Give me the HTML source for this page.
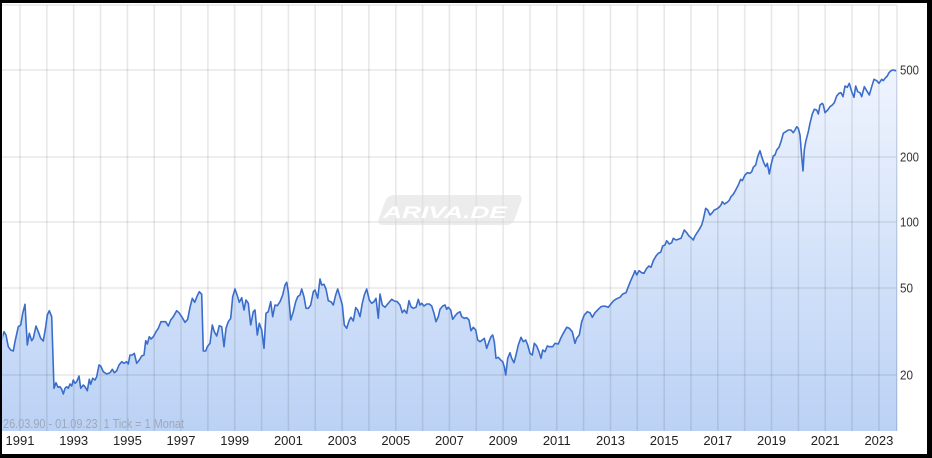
<!DOCTYPE html>
<html>
<head>
<meta charset="utf-8">
<style>
html,body{margin:0;padding:0;background:#fff;}
svg{display:block;}
text{font-family:"Liberation Sans",Arial,sans-serif;}
</style>
</head>
<body>
<svg width="932" height="458" viewBox="0 0 932 458" xmlns="http://www.w3.org/2000/svg" xmlns:xlink="http://www.w3.org/1999/xlink">
<defs>
<linearGradient id="fg" gradientUnits="userSpaceOnUse" x1="0" y1="70" x2="0" y2="431">
<stop offset="0" stop-color="#eff4fe"/>
<stop offset="1" stop-color="#bbd2f5"/>
</linearGradient>
<clipPath id="cl"><rect x="2.6" y="0" width="893.6" height="430"/></clipPath>
<polygon id="area" points="1.7,431 1.7,340 4,331.7 6,335 8.3,346.7 10.7,350 13.3,351 15,341.7 18.3,326.7 20.7,325 22.7,313.3 25,304.3 27.3,345 29.3,333.3 31.7,340.7 33.3,338.3 36,326 38.3,331.7 40.7,338.3 43.3,341 45.7,326.7 47.3,315 49.3,310.7 51.7,316.7 54,388.3 56,382.7 58,387.3 60,386.7 61.7,389.3 63.3,394 65,388.3 66.7,386.7 68.3,388.3 70,384 71.7,386 73.3,380 75,383.3 76.7,381.7 79,376 80.7,388.3 83.3,385 85,386.7 87.3,390.7 89.3,379.3 90.7,384.3 92.7,378.3 95,380 96.7,376.7 99,365 100.7,366 103.3,371.7 106.7,374 110,372.7 112.3,369.3 114.3,372.7 116.7,370.7 119,365 121.7,361.7 124,363.3 126.7,361.7 128.3,364 130,355 132.3,355 134.3,353.3 136.7,363.3 139.3,360 141.7,356 144,355 145.7,340.7 147.3,344 149.3,336.7 151,339 153.3,336.7 156,331.7 158.3,328.3 161,321.7 163.3,321.7 165.7,321.7 168.3,326 170.7,320 173.3,316.7 176.7,310.7 179,312.7 181.7,316.7 185,322.3 187.7,319.3 190,307.3 192.3,298.3 194.7,302.3 197.3,295.7 199.3,291.7 201.7,294.3 203.3,351 205.7,351 207.3,346.7 210,343.3 212.3,325 214.3,331.7 216.7,336 219.3,325.7 221.7,326.7 224,346.7 226,328.3 228.3,321.7 230.7,318.3 232.7,296.7 235,289 237.3,295.7 239.3,302.3 241.7,297.7 244,310 246,300 248.3,303.3 250.7,325 253.3,311.7 255,310 257.3,335 259.3,323.3 261.7,330 264,348.3 266,313.3 268.3,311.7 270.7,301.7 272.7,316.7 275,305 277.3,305.7 280,301.7 282.7,295 285,285 286.7,282.3 288.3,291.7 290.7,320 293.3,311.7 295.7,301.7 297.7,296.7 300,295 301.7,289 304,296.7 306,308.3 308.3,308.3 310.7,305 313.3,291.7 315,290 317.7,298.3 320,279 321.7,285 324,284.3 326,289 328.3,300.7 331,301.7 333.3,305 335.7,295 337.7,289 340,296.7 342.3,305 344.3,325 346.7,328.3 349.3,320 351,317.3 353.3,321 355.7,307.7 357.7,310 360,316.7 362.3,303.3 364.3,295 366.7,289 369.3,300 371.7,303.3 374,301.7 376,298.3 378.3,318.3 380,294 382.3,305 385,307.3 388.3,303.3 391.7,299.3 394.3,301 397.3,301.7 400,305 402.3,312.7 404.3,310 406.7,313.3 409,300.7 411,306.7 413.3,308.3 416,307.3 418.3,299.3 420,305 421.7,303.3 424,306 426.7,304 429.3,304 431.7,306 434,313.3 436,321.7 438.3,316.7 440,309.3 442.7,306 445,305 446.7,309.3 448.3,307.3 450.7,310 452.7,319.3 455,316 457.3,313.3 460,311.7 461.7,316.7 464.3,318.3 466.7,317.7 469,320 471,330.7 473.3,327.3 475.7,330 477.7,340 480,341.7 482.3,340 484.3,338.3 486.7,348.3 489,341.7 491,336.7 492.7,335 494.3,341.7 496,358.3 498.3,357.3 500.7,360 502.7,361.7 504.3,366.7 505.7,375 507.7,358.3 510,352.7 511.7,358.3 514,362.7 516,355 518.3,345 521,337.3 523.3,341.7 525.7,340 527.7,345 530,353.3 532.3,355 534.3,343.3 536.7,346 539,351.7 541,358.3 542.7,350 545,351.7 547.3,346 549.3,346.7 552.7,346.7 555,343.3 558.3,344 560.7,338.3 563.3,333.3 566.7,327.3 569.3,328.3 572.3,331.7 575,343.3 576.7,338.3 579.3,335 581.7,321.7 584.3,315 587.3,311.7 590,312.7 592.3,317.3 595,312.7 598.3,309.3 601,306.7 604,306 606.7,306.7 608.3,307.3 610.7,304.3 613.3,301 616.7,298.7 620,297.3 622.7,294 626,292.7 628.3,286.7 630.7,280.7 633.3,275 635,270.7 636.7,275 639,270.7 641.7,272.7 644,273.3 646.7,268.3 649,266 651,267.3 653.3,260.7 656,256 658.3,253.3 660.7,252.3 662.7,246 665,245 666.7,240.7 669.3,244 671.7,242.7 673.3,238.3 676,240 678.3,239.3 681,238.3 682.7,234 684.3,230 686.7,232.7 689,236 691.7,238.3 693.3,240 695,236 696.7,233.3 699.3,229.3 701.7,225 703.3,219.3 705.7,208.3 707.7,210 710,215 712.3,212.7 714.3,210 716.7,209 719,207.3 721,205 722.3,201.7 724.3,204 726.7,202.7 729,200.7 731,196.7 733.3,194.3 735.7,190 738.3,185 740.7,179.3 742.3,180.7 745,175 747.3,172.7 750,173.3 751.7,171.7 753.3,167.3 755.7,165 757.7,156.7 760,150.7 761.7,156.7 764,163.3 765.7,166.7 767.3,163.3 769.3,174 771,165 773.3,156 775,155 776.7,150 779,147.3 781,141.7 783.3,133.3 785.7,131.7 788.3,130 791,130 793.3,132.7 795,130 796.7,126.7 798.3,128.3 800,135 801.7,156.7 803,171 804.3,150 805.7,141.7 808.3,131.7 810,123.3 812.3,114 814.3,109.3 816.7,110 818.3,114 820,105 822.3,103.3 823.3,105 825,112.7 827.7,110 830,106.7 832.3,105 834.3,102.7 836.7,96 839,93.3 841,92.7 843,96.7 845,86 847.3,87.3 849.3,83.3 851.7,91.7 854,97.3 855.7,86 857.7,91.7 860,92.7 861.7,96.7 864.3,86.7 866.7,90.7 869.3,95 871.7,86.7 874,79.3 876.7,80.7 879,83.3 881.7,79.3 883.3,80.7 885,78.3 887.3,76 889,72.7 891,70.7 893.3,70 895.7,70.7 897,70 897,431"/>
</defs>

<rect x="0" y="0" width="932" height="458" fill="#fff"/>

<use href="#area" xlink:href="#area" fill="url(#fg)" stroke="none"/>

<g stroke="#000" stroke-opacity="0.09" stroke-width="1.6" fill="none">
<path d="M2 5H897M2 70H897M2 157H897M2 222H897M2 288H897M2 375H897M897 5V431"/>
<path d="M20 5V431M46.8 5V431M73.7 5V431M100.5 5V431M127.4 5V431M154.2 5V431M181 5V431M207.9 5V431M234.7 5V431M261.6 5V431M288.4 5V431M315.2 5V431M342.1 5V431M368.9 5V431M395.8 5V431M422.6 5V431M449.4 5V431M476.3 5V431M503.1 5V431M530 5V431M556.8 5V431M583.6 5V431M610.5 5V431M637.3 5V431M664.2 5V431M691 5V431M717.8 5V431M744.7 5V431M771.5 5V431M798.4 5V431M825.2 5V431M852 5V431M878.9 5V431"/>
</g>

<g transform="translate(450,210) skewX(-20)">
<rect x="-68" y="-15" width="136" height="30" rx="6" fill="#dcdcdc" fill-opacity="0.55"/>
</g>
<text x="383" y="218" font-size="17" font-weight="bold" font-style="italic" fill="#ffffff" textLength="124" lengthAdjust="spacingAndGlyphs">ARIVA.DE</text>

<use href="#area" xlink:href="#area" fill="none" stroke="#3a6dcb" stroke-width="1.6" stroke-linejoin="round" clip-path="url(#cl)"/>

<text x="3" y="428" font-size="12.5" fill="#9ea8b8" textLength="181" lengthAdjust="spacingAndGlyphs">26.03.90 - 01.09.23 &#160;1 Tick = 1 Monat</text>

<g font-size="12.5" fill="#333">
<text x="900" y="74.5" textLength="19" lengthAdjust="spacingAndGlyphs">500</text>
<text x="900" y="161.5" textLength="19" lengthAdjust="spacingAndGlyphs">200</text>
<text x="900" y="226.5" textLength="19" lengthAdjust="spacingAndGlyphs">100</text>
<text x="900" y="292.5" textLength="13" lengthAdjust="spacingAndGlyphs">50</text>
<text x="900" y="379.5" textLength="13" lengthAdjust="spacingAndGlyphs">20</text>
</g>

<g font-size="13" fill="#222" text-anchor="middle">
<text x="20" y="445">1991</text>
<text x="73.7" y="445">1993</text>
<text x="127.4" y="445">1995</text>
<text x="181" y="445">1997</text>
<text x="234.7" y="445">1999</text>
<text x="288.4" y="445">2001</text>
<text x="342.1" y="445">2003</text>
<text x="395.8" y="445">2005</text>
<text x="449.4" y="445">2007</text>
<text x="503.1" y="445">2009</text>
<text x="556.8" y="445">2011</text>
<text x="610.5" y="445">2013</text>
<text x="664.2" y="445">2015</text>
<text x="717.8" y="445">2017</text>
<text x="771.5" y="445">2019</text>
<text x="825.2" y="445">2021</text>
<text x="878.9" y="445">2023</text>
</g>

<rect x="0" y="0" width="932" height="3" fill="#000"/>
<rect x="0" y="0" width="2" height="458" fill="#000"/>
<rect x="927" y="0" width="5" height="458" fill="#000"/>
<rect x="0" y="454" width="932" height="4" fill="#000"/>
</svg>
</body>
</html>
